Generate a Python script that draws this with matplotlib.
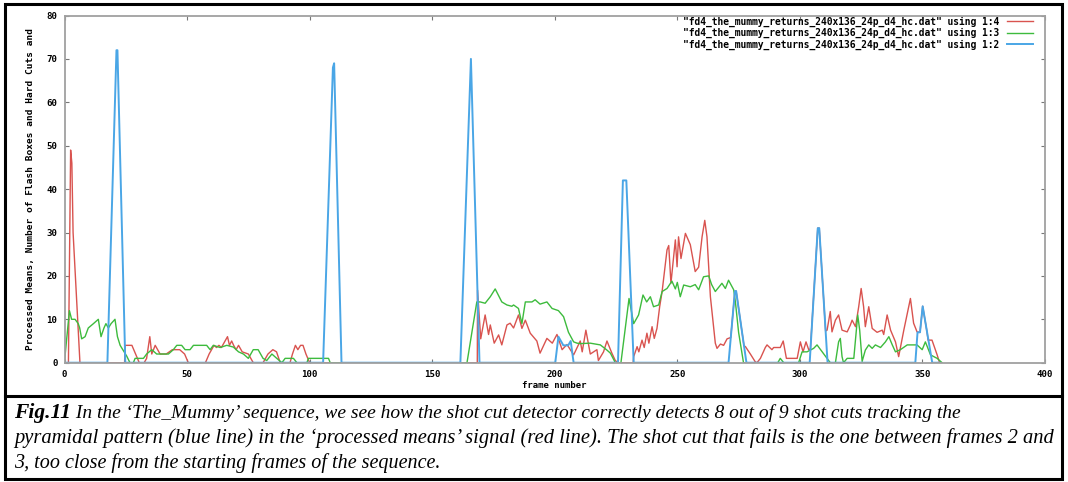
import matplotlib
matplotlib.use('Agg')
import matplotlib.pyplot as plt
from matplotlib.patches import Rectangle
from matplotlib.lines import Line2D

W, H = 1068, 482

# "using 1:4" - processed means (red)
red_x = [0, 1.6, 2.5, 3.0, 3.5, 6.3, 24.5, 24.8, 27.5, 30.5, 32.5, 33.5, 34.8, 35.6, 37, 39, 41.5,
         44, 47, 49, 50.5, 57.5, 59, 61, 62, 63, 64, 65, 66.5, 67.3, 68.2, 69, 70, 71, 72.5, 75, 77, 81, 83, 85,
         86.5, 88, 92, 93, 94.2, 95.2, 96.3, 97.3, 98.5, 100, 168.4, 168.5,
         169.8, 171.6, 173, 173.7, 175.3, 177.1, 178.4, 180.5, 181.8, 183.2, 185.2, 186.6, 188, 190, 192.7, 194,
         196.8, 199, 200.9, 203, 205, 207.7, 210.4, 211.2, 212.7, 214.5, 217.2, 217.8, 219.9, 221.3, 223.3, 224.7,
         225.8, 232.0, 232.2, 233.6, 234.3, 235.6, 236.5, 237.6, 238.4, 239.7, 240.6, 241.7, 242.8, 243.8,
         245.8, 246.5, 247.4, 249.2, 249.9, 250.5, 251.5, 253.3, 255.3, 257.3, 258.7, 260.1, 261.2, 262.1, 263.5,
         265.5, 266.2, 267.6, 268.9, 270.3, 271.8, 273.5, 274, 277.2, 277.8, 279.8, 281.8, 282.5, 283.9, 285.9,
         286.6, 288.6, 289.3, 292, 293.2, 294.5, 298.9, 300.2, 301.3, 302.5, 303.6, 304.3, 307.3, 307.9, 310.5,
         311.1, 312.4, 313.1, 314.5, 315.8, 317.2, 319.3, 320.6, 321.3, 322.7, 324, 325, 326, 326.7, 328.1, 329.5,
         331.5, 333.6, 334.2, 335.6, 337, 339, 340.3, 342.4, 345.1, 346.4, 347.8, 349, 350.1, 351.9, 352.3, 353.9,
         356, 357]
red_y = [0, 0, 49, 46, 30, 0, 0, 4, 4, 0, 0, 1, 6, 2, 4, 2, 2,
         3, 3, 2, 0, 0, 2, 4, 3.5, 4, 3.5, 4.5, 6, 4, 5, 4, 3, 4, 2.5, 2, 0, 0, 2, 3,
         2.5, 0, 0, 2, 4, 3, 4, 4, 2, 0, 0, 16.7,
         5.5, 11, 6.5, 8.7, 4.5, 6.4, 4.1, 8.7, 9.1, 8, 11, 7.9, 9.8, 6.8, 5, 2.2,
         5.6, 4.5, 6.5, 3, 4.2, 1.8, 5, 2.5, 7.5, 2, 3, 0.5, 2.5, 5, 2.2, 0.5,
         0, 0, 1.4, 3.7, 2.5, 5.2, 3.5, 6.8, 4.5, 8.3, 5.6, 7.9, 12.9, 16.4,
         26, 27, 18.3, 28.3, 22.1, 29, 24, 29.8, 27.2, 21, 22, 29, 32.8, 29, 15.2,
         4.5, 3.3, 4.3, 4, 5.5, 5.8, 16.5, 16.5, 3.9, 3.7, 2, 0.2, 0, 1, 3.5,
         4.1, 3, 3.5, 3.5, 5, 1, 1, 4.8, 2.5, 4.8, 3, 3.2, 31, 31, 7.3,
         7.5, 11.8, 7.1, 9.8, 11, 7.5, 7.1, 8.7, 9.8, 8.3, 12.9, 17.1, 12.9, 8.3, 12.9, 7.9,
         7, 7.5, 6.5, 11, 7.5, 4.8, 1.4, 7.5, 14.8, 9.1, 7.1, 7, 13, 7, 5.2, 5.2,
         1.8, 0]

# "using 1:3" - flash boxes (green)
green_x = [0, 0.3, 2, 2.9, 4.3, 5.6, 6.2, 7, 8.4, 9.7, 11.8, 13.8, 14.9, 16.1, 16.9, 17.9, 19, 20.6, 21.6, 22.7,
           23.8, 25.4, 26.7, 28.1, 28.8, 32.2, 33.5, 35.6, 37.6, 42.4, 44.4, 45.8, 47.8, 49.2, 51.2, 52.6, 58,
           59.4, 60.7, 63.5, 66.2, 68.9, 71, 73, 75, 77, 79, 81, 82.5, 84.6, 86.6, 88.7, 90, 93.4, 94.8, 98.9,
           99.5, 107.7, 108.4, 164.2, 168.2, 169.6, 171.6, 173.7, 175.7, 178.4, 180.5, 182.5, 183.2, 185.2, 186.6,
           188, 190.7, 192, 194, 196.8, 198.9, 201.5, 203.6, 205.6, 207.7, 209.1, 210.4, 214.5, 218.6, 221.3,
           222.7, 224.7, 227, 230.3, 232.2, 234.2, 236, 237.5, 239, 240.3, 242.4, 243.8, 245.8, 247.8, 249.2, 250,
           251.2, 252.6, 255.3, 257.3, 258.7, 260.7, 262.8, 264, 265.5, 268.2, 269.6, 270.9, 273, 273.7, 275, 277,
           291, 292, 293.4, 299.5, 300.9, 302.9, 305.6, 307, 309.1, 311.1, 312.4, 314.5, 315.8, 316.5, 317.2,
           317.8, 319.3, 322, 323.6, 324.4, 325.4, 326.7, 328.1, 329.5, 330.8, 332.9, 334.9, 336.3, 337.7, 339,
           341, 343.8, 347.8, 349.9, 351.2, 353.3, 356, 358]
green_y = [0, 2, 12, 10, 10, 9, 8, 5.5, 6, 8, 9, 10, 6, 8, 9, 8, 9, 10, 6, 4,
           3, 1.5, 0, 0, 1, 1, 2, 3, 2, 2, 3, 4, 4, 3, 3, 4, 4,
           3, 4, 3.5, 4, 3.6, 2.5, 2, 1, 3, 3, 1, 0.5, 2, 1, 0, 1, 1, 0, 0,
           1, 1, 0, 0, 14, 14, 13.7, 15.2, 17, 14, 13.3, 13, 13.3, 12.5, 9,
           14, 14, 14.5, 13.5, 14, 12.5, 12, 10.6, 7, 4.8, 4.5, 4.4, 4.5, 4.1, 2.9,
           2.2, 0, 0, 14.8, 9, 11, 15.6, 14, 15.2, 12.9, 13.3, 16.4, 17.1, 18.8, 17, 18.5,
           15.2, 17.9, 17.5, 18, 16.8, 19.8, 20, 18, 16.4, 18.3, 17.1, 19, 16.8, 14, 7, 0,
           0, 1, 0, 0, 2.5, 2.5, 3.3, 4.1, 2.5, 1, 0, 0, 4.8, 5.6, 1.4,
           0, 1, 1, 11, 7.5, 0.3, 2.9, 4.1, 3.3, 4.1, 3.5, 4.8, 6, 4.1, 2.5,
           3, 4.1, 4.1, 3, 4.8, 1.8, 1, 0]

# "using 1:2" - hard cuts pyramids (blue)
blue_x = [0, 17.5, 21.2, 21.6, 24.8, 105.5, 109.5, 110, 113, 161.5, 165.8, 169.3, 200.2, 201.5, 203.5, 205.5,
          206.5, 207.7, 225.8, 227.8, 229.2, 232.2, 270.9, 273.5, 274, 278.2, 304, 307.3, 307.9, 311.3, 347.1,
          348, 349, 350.1, 354, 357]
blue_y = [0, 0, 72, 72, 0, 0, 68, 69, 0, 0, 70, 0, 0, 6, 4, 4,
          5, 0, 0, 42, 42, 0, 0, 16.5, 16.5, 0, 0, 31, 31, 0, 0,
          7, 7, 13, 0, 0]

labels = ['"fd4_the_mummy_returns_240x136_24p_d4_hc.dat" using 1:4',
          '"fd4_the_mummy_returns_240x136_24p_d4_hc.dat" using 1:3',
          '"fd4_the_mummy_returns_240x136_24p_d4_hc.dat" using 1:2']
colors = ['#d9534f', '#3dbb3d', '#4aa6e6']
widths = [1.0, 1.0, 1.4]

caption_bold = 'Fig.11'
caption_lines = [
    ' In the \u2018The_Mummy\u2019 sequence, we see how the shot cut detector correctly detects 8 out of 9 shot cuts tracking the',
    'pyramidal pattern (blue line) in the \u2018processed means\u2019 signal (red line). The shot cut that fails is the one between frames 2 and',
    '3, too close from the starting frames of the sequence.',
]
caption_sizes = [14.0, 14.8, 14.5]

mono = {'family': 'DejaVu Sans Mono', 'weight': 'bold'}

fig = plt.figure(figsize=(W / 100, H / 100), dpi=100)
ax = fig.add_axes([64.5 / W, 1 - 362.7 / H, (1045 - 64.5) / W, (362.7 - 15.5) / H])

for xs, ys, c, lw, lab in zip([red_x, green_x, blue_x], [red_y, green_y, blue_y], colors, widths, labels):
    ax.plot(xs, ys, color=c, lw=lw, label=lab)

ax.set_xlim(0, 400)
ax.set_ylim(0, 80)
ax.set_xticks(range(0, 401, 50))
ax.set_yticks(range(0, 81, 10))
for s in ax.spines.values():
    s.set_color('#a0a0a0')
    s.set_linewidth(1.3)
ax.tick_params(direction='in', top=True, right=True, length=3, width=0.8, color='#777777', pad=5)
for t in ax.get_xticklabels() + ax.get_yticklabels():
    t.set_fontproperties(mono)
    t.set_fontsize(6.6)
ax.set_xlabel('frame number', fontdict=mono, fontsize=6.5, labelpad=2)
ax.set_ylabel('Processed Means, Number of Flash Boxes and Hard Cuts and', fontdict=mono, fontsize=6.8, labelpad=8)

leg = ax.legend(loc='upper right', bbox_to_anchor=(0.988, 0.997), frameon=False, markerfirst=False,
                prop={'family': 'DejaVu Sans Mono', 'weight': 'bold', 'size': 6.9},
                handlelength=2.7, labelspacing=0.12, borderaxespad=0, borderpad=0, handletextpad=0.8)

# page frame around chart and caption
fig.add_artist(Rectangle((5 / W, 1 - 479 / H), 1057 / W, 475 / H, transform=fig.transFigure,
                         fill=False, edgecolor='black', lw=2.2))
fig.add_artist(Line2D([5 / W, 1062 / W], [1 - 396 / H, 1 - 396 / H], transform=fig.transFigure,
                      color='black', lw=2.2))

serif = 'Liberation Serif'
r = fig.canvas.get_renderer()
t0 = fig.text(14 / W, 1 - 418 / H, caption_bold, fontsize=15.5, family=serif, style='italic', weight='bold')
bb = t0.get_window_extent(r)
fig.text(bb.x1 / W, 1 - 418 / H, caption_lines[0], fontsize=caption_sizes[0], family=serif, style='italic')
fig.text(14 / W, 1 - 443 / H, caption_lines[1], fontsize=caption_sizes[1], family=serif, style='italic')
fig.text(14 / W, 1 - 468 / H, caption_lines[2], fontsize=caption_sizes[2], family=serif, style='italic')

fig.savefig('out.png', dpi=100)
